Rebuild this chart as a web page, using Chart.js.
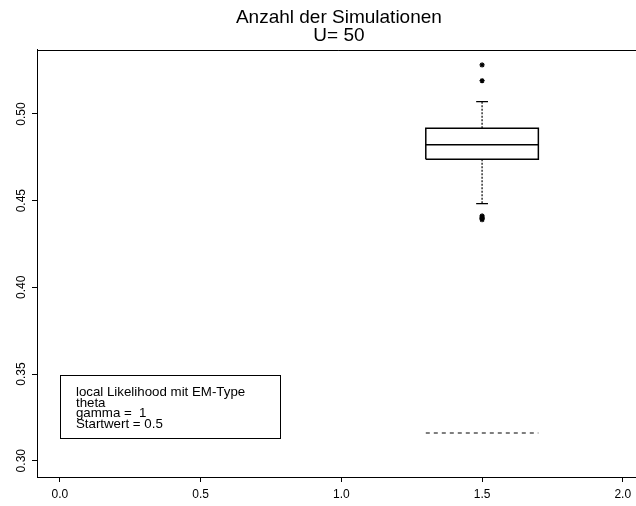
<!DOCTYPE html>
<html>
<head>
<meta charset="utf-8">
<script src="https://cdn.jsdelivr.net/npm/chart.js@4/dist/chart.umd.min.js"></script>
<style>
  html, body { margin: 0; padding: 0; background: #fff; overflow: hidden; }
  #wrap { width: 636px; height: 506px; overflow: hidden; }
</style>
</head>
<body>
<div id="wrap"><canvas id="c" width="646" height="506"></canvas></div>
<script>
// ---- data ----
const titleLines = ["Anzahl der Simulationen", "U= 50"];
const groupPos = [1.5];
// lower whisker, Q1, median, Q3, upper whisker
const boxStats = [0.4483, 0.4739, 0.4823, 0.4918, 0.5071];
const outliers = [0.5283, 0.5192, 0.4412, 0.4405, 0.4400, 0.4396, 0.4390];
const refValue = [0.316];
const xTicks = [0.0, 0.5, 1.0, 1.5, 2.0];
const yTicks = [0.30, 0.35, 0.40, 0.45, 0.50];
const legendLines = ["local Likelihood mit EM-Type", "theta", "gamma =  1", "Startwert = 0.5"];
const legendCorner = [0.0, 0.3494, 0.783, 0.3129]; // x1, y1, x2, y2 in data units

const FONT = "'Liberation Sans', Arial, Helvetica, sans-serif";
const boxHalf = 0.2, capHalf = 0.021;
const cx = groupPos[0];
const [lo, q1, med, q3, hi] = boxStats;

const lineDs = (pts, extra) => Object.assign({
  data: pts, showLine: true, pointRadius: 0, borderColor: '#000',
  borderWidth: 1, fill: false, tension: 0
}, extra || {});

const datasets = [
  lineDs([{x: cx - boxHalf, y: q1}, {x: cx + boxHalf, y: q1}, {x: cx + boxHalf, y: q3},
          {x: cx - boxHalf, y: q3}, {x: cx - boxHalf, y: q1}], {borderWidth: 1.5}),
  lineDs([{x: cx - boxHalf, y: med}, {x: cx + boxHalf, y: med}], {borderWidth: 1.5}),
  lineDs([{x: cx, y: q3}, {x: cx, y: hi}], {borderDash: [2, 1.5], borderWidth: 1.2}),
  lineDs([{x: cx, y: q1}, {x: cx, y: lo}], {borderDash: [2, 1.5], borderWidth: 1.2}),
  lineDs([{x: cx - capHalf, y: hi}, {x: cx + capHalf, y: hi}], {borderWidth: 1.3}),
  lineDs([{x: cx - capHalf, y: lo}, {x: cx + capHalf, y: lo}], {borderWidth: 1.3}),
  lineDs([{x: cx - boxHalf, y: refValue[0]}, {x: cx + boxHalf, y: refValue[0]}], {borderDash: [4, 4], borderWidth: 1.1}),
  {
    data: outliers.map(v => ({x: cx, y: v})), showLine: false,
    pointStyle: 'star', pointRadius: 2.6, borderColor: '#000', borderWidth: 1.2,
    backgroundColor: '#000'
  }
];

const framePlugin = {
  id: 'frame',
  afterDraw(chart) {
    const {ctx, chartArea: a, scales} = chart;
    ctx.save();
    // top frame line
    ctx.strokeStyle = '#000';
    ctx.lineWidth = 1;
    ctx.beginPath();
    ctx.moveTo(a.left, Math.round(a.top) + 0.5);
    ctx.lineTo(a.right, Math.round(a.top) + 0.5);
    ctx.stroke();
    // y tick labels (rotated, as in R)
    ctx.fillStyle = '#000';
    ctx.font = '12px ' + FONT;
    ctx.textAlign = 'center';
    ctx.textBaseline = 'middle';
    yTicks.forEach(v => {
      const py = scales.y.getPixelForValue(v);
      ctx.save();
      ctx.translate(22, py);
      ctx.rotate(-Math.PI / 2);
      ctx.fillText(v.toFixed(2), 0, 0);
      ctx.restore();
    });
    // legend box
    const x1 = scales.x.getPixelForValue(legendCorner[0]);
    const y1 = scales.y.getPixelForValue(legendCorner[1]);
    const x2 = scales.x.getPixelForValue(legendCorner[2]);
    const y2 = scales.y.getPixelForValue(legendCorner[3]);
    ctx.fillStyle = '#fff';
    ctx.fillRect(x1, y1, x2 - x1, y2 - y1);
    ctx.strokeStyle = '#000';
    ctx.lineWidth = 1;
    ctx.strokeRect(Math.round(x1) + 0.5, Math.round(y1) + 0.5, Math.round(x2 - x1), Math.round(y2 - y1));
    ctx.fillStyle = '#000';
    ctx.font = '13.3px ' + FONT;
    ctx.textAlign = 'left';
    ctx.textBaseline = 'alphabetic';
    legendLines.forEach((t, i) => {
      ctx.fillText(t, x1 + 16, y1 + 21 + i * 10.7);
    });
    ctx.restore();
  }
};

new Chart(document.getElementById('c'), {
  type: 'scatter',
  data: { datasets },
  options: {
    responsive: false,
    animation: false,
    layout: { padding: { left: 0, right: 0, top: 0, bottom: 0 } },
    plugins: {
      legend: { display: false },
      tooltip: { enabled: false },
      title: {
        display: true,
        text: titleLines,
        color: '#000',
        fullSize: false,
        font: { family: FONT, size: 19, weight: 'normal', lineHeight: '18px' },
        padding: { top: 9, bottom: 4.5 }
      }
    },
    scales: {
      x: {
        type: 'linear',
        min: -0.0815, max: 2.064,
        afterBuildTicks: s => { s.ticks = xTicks.map(v => ({value: v})); },
        afterFit: s => { s.height = 29; s.paddingLeft = 0; s.paddingRight = 0; },
        grid: { display: true, drawOnChartArea: false, drawTicks: true, tickLength: 5, color: '#000', tickColor: '#000' },
        border: { display: true, color: '#000', width: 1 },
        ticks: {
          color: '#000', font: { family: FONT, size: 12 }, padding: 5,
          autoSkip: false, maxRotation: 0, minRotation: 0,
          callback: v => Number(v).toFixed(1)
        }
      },
      y: {
        type: 'linear',
        min: 0.2906, max: 0.5372,
        afterBuildTicks: s => { s.ticks = yTicks.map(v => ({value: v})); },
        afterFit: s => { s.width = 37; s.paddingTop = 0; s.paddingBottom = 0; },
        grid: { display: true, drawOnChartArea: false, drawTicks: true, tickLength: 5, color: '#000', tickColor: '#000' },
        border: { display: true, color: '#000', width: 1 },
        ticks: { display: false }
      }
    }
  },
  plugins: [framePlugin]
});
</script>
</body>
</html>
